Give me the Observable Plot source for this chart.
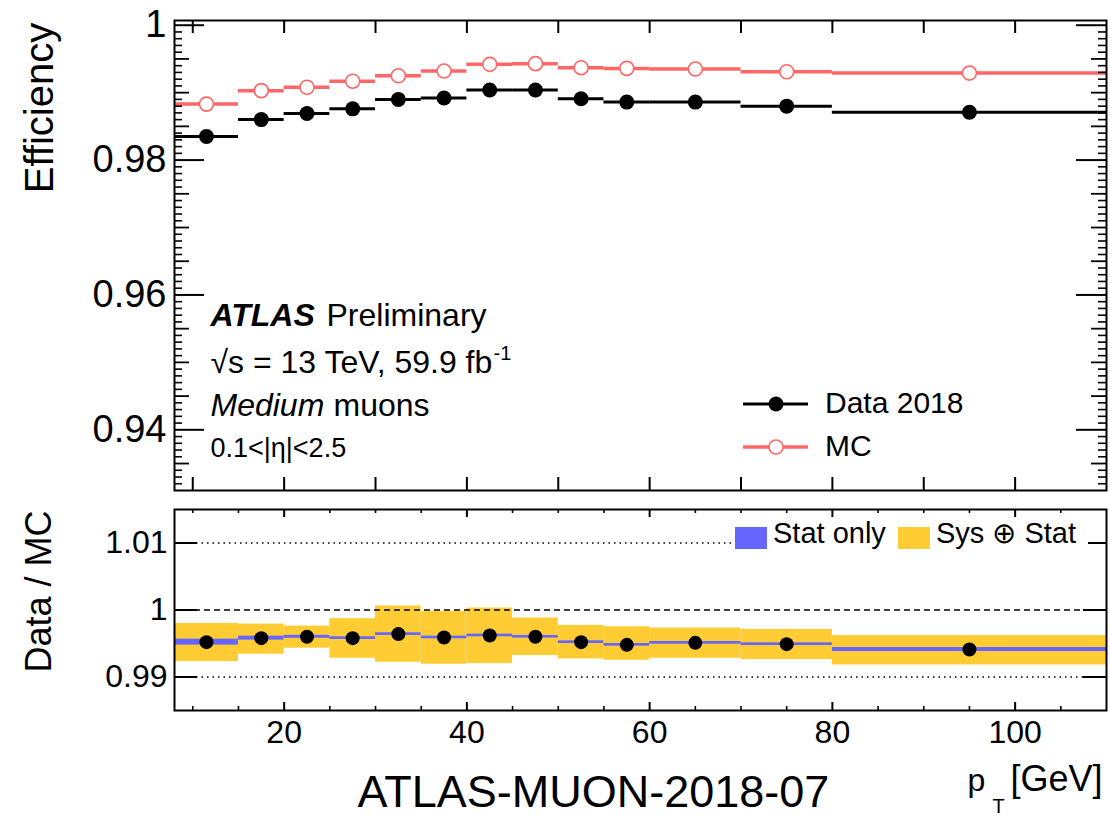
<!DOCTYPE html>
<html>
<head>
<meta charset="utf-8">
<script src="https://cdn.jsdelivr.net/npm/d3@7"></script>
<script src="https://cdn.jsdelivr.net/npm/@observablehq/plot@0.6"></script>
<style>
  body { margin: 0; background: #fff; }
  #chart { position: relative; width: 1110px; height: 816px; overflow: hidden;
           font-family: "Liberation Sans", Arial, Helvetica, sans-serif; }
  #chart > svg { position: absolute; left: 0; }
  #legend { position: absolute; left: 0; top: 0; pointer-events: none; }
</style>
</head>
<body>
<div id="chart"></div>
<script>
// pT binning [GeV]
const binLow    = [8, 15, 20, 25, 30, 35, 40, 45, 50, 55, 60, 70, 80];
const binHigh   = [15, 20, 25, 30, 35, 40, 45, 50, 55, 60, 70, 80, 110];
const binCenter = [11.5, 17.5, 22.5, 27.5, 32.5, 37.5, 42.5, 47.5, 52.5, 57.5, 65, 75, 95];

// Medium muon reconstruction efficiency
const effData = [0.9835, 0.9860, 0.9869, 0.9876, 0.9890, 0.9892, 0.9904, 0.9904, 0.9891, 0.9886, 0.9886, 0.9880, 0.9871];
const effMC   = [0.9883, 0.9903, 0.9908, 0.9917, 0.9925, 0.9932, 0.9942, 0.9943, 0.9937, 0.9936, 0.9935, 0.9931, 0.9929];

// Data / MC scale factors with uncertainty bands
const ratio     = [0.9952, 0.9958, 0.9960, 0.9958, 0.9964, 0.9959, 0.9962, 0.9960, 0.9952, 0.9948, 0.9951, 0.9949, 0.9941];
const statErr   = [0.00045, 0.0003, 0.00022, 0.0002, 0.0002, 0.0002, 0.0002, 0.0002, 0.0002, 0.0002, 0.0002, 0.0002, 0.0003];
const totalUp   = [0.9980, 0.9979, 0.9976, 0.9987, 1.0006, 0.9998, 1.0003, 0.9988, 0.9977, 0.9975, 0.9973, 0.9971, 0.9962];
const totalDown = [0.9923, 0.9934, 0.9943, 0.9928, 0.9922, 0.9919, 0.9920, 0.9932, 0.9927, 0.9925, 0.9928, 0.9926, 0.9918];

// Axis ticks and labels
const effTicks    = [0.94, 0.96, 0.98, 1];
const ratioTicks  = [0.99, 1, 1.01];
const ptTicks     = [20, 40, 60, 80, 100];
const ratioDotted = [0.99, 1.01];
const ratioDashed = [1];

const xDomain = [8, 110];
const effDomain = [0.931, 1.0007];
const ratioDomain = [0.985, 1.015];

const rows = binLow.map((lo, i) => ({
  lo, hi: binHigh[i], pt: binCenter[i],
  data: effData[i], mc: effMC[i],
  ratio: ratio[i], statLo: ratio[i] - statErr[i], statHi: ratio[i] + statErr[i],
  sysLo: totalDown[i], sysHi: totalUp[i]
}));

const RED = "#ff6666", BLUE = "#6666ff", YELLOW = "#ffcc33";
const FONT = '"Liberation Sans", Arial, Helvetica, sans-serif';
const W = 1110;
const mLeft = 174, mRight = 4;
const plotW = W - mLeft - mRight;

// inward ticks on both vertical sides
function sideTicksY(values, len, sw = 2) {
  return [
    Plot.ruleY(values, {y: d => d, insetRight: plotW - len, stroke: "black", strokeWidth: sw}),
    Plot.ruleY(values, {y: d => d, insetLeft: plotW - len, stroke: "black", strokeWidth: sw})
  ];
}
// inward ticks on both horizontal sides
function sideTicksX(values, len, plotH, sw = 2) {
  return [
    Plot.ruleX(values, {x: d => d, insetTop: plotH - len, stroke: "black", strokeWidth: sw}),
    Plot.ruleX(values, {x: d => d, insetBottom: plotH - len, stroke: "black", strokeWidth: sw})
  ];
}
const txt = (s, o) => Plot.text([s], {text: d => d, fill: "black", ...o});

// ---------- efficiency panel ----------
const effH = 500, effMT = 20, effMB = 10;
const effPH = effH - effMT - effMB;
const effMinor = d3.range(932, 1001).filter(i => i % 5 !== 0).map(i => i / 1000);
const effMedium = d3.range(935, 1000, 5).filter(i => i % 20 !== 0).map(i => i / 1000);
const xEffTicks = d3.range(10, 110, 10);

const effPanel = Plot.plot({
  width: W, height: effH,
  marginTop: effMT, marginBottom: effMB, marginLeft: mLeft, marginRight: mRight,
  x: {domain: xDomain, axis: null},
  y: {domain: effDomain},
  style: {fontFamily: FONT, background: "transparent", overflow: "visible"},
  marks: [
    Plot.ruleY(rows, {x1: "lo", x2: "hi", y: "mc", stroke: RED, strokeWidth: 3.5}),
    Plot.dot(rows, {x: "pt", y: "mc", r: 7, fill: "white", stroke: RED, strokeWidth: 1.6}),
    Plot.ruleY(rows, {x1: "lo", x2: "hi", y: "data", stroke: "black", strokeWidth: 3}),
    Plot.dot(rows, {x: "pt", y: "data", r: 7.5, fill: "black"}),
    ...sideTicksY(effMinor, 8, 1.6),
    ...sideTicksY(effMedium, 15, 1.8),
    ...sideTicksY(effTicks, 30, 2),
    ...sideTicksX(xEffTicks, 13, effPH, 2),
    Plot.frame({stroke: "black", strokeWidth: 2}),
    Plot.axisY(effTicks, {tickSize: 0, tickPadding: 8, fontSize: 38, label: null, tickFormat: d => String(d)}),
    txt("Efficiency", {frameAnchor: "top-left", dx: -122, dy: 87.5, rotate: -90, textAnchor: "middle", lineAnchor: "bottom", fontSize: 40}),
    txt("ATLAS", {frameAnchor: "top-left", dx: 36, dy: 305, textAnchor: "start", lineAnchor: "bottom", fontSize: 32, fontWeight: "bold", fontStyle: "italic"}),
    txt("Preliminary", {frameAnchor: "top-left", dx: 152, dy: 305, textAnchor: "start", lineAnchor: "bottom", fontSize: 32}),
    txt("√s = 13 TeV, 59.9 fb", {frameAnchor: "top-left", dx: 36, dy: 352, textAnchor: "start", lineAnchor: "bottom", fontSize: 32}),
    txt("-1", {frameAnchor: "top-left", dx: 319, dy: 339, textAnchor: "start", lineAnchor: "bottom", fontSize: 20}),
    txt("Medium", {frameAnchor: "top-left", dx: 36, dy: 395, textAnchor: "start", lineAnchor: "bottom", fontSize: 32, fontStyle: "italic"}),
    txt("muons", {frameAnchor: "top-left", dx: 159, dy: 395, textAnchor: "start", lineAnchor: "bottom", fontSize: 32}),
    txt("0.1<|η|<2.5", {frameAnchor: "top-left", dx: 36, dy: 436, textAnchor: "start", lineAnchor: "bottom", fontSize: 27})
  ]
});
effPanel.style.top = "0px";

// ---------- ratio panel ----------
const ratioTop = 500, ratioH = 316, ratioMT = 9, ratioMB = 106;
const ratioPH = ratioH - ratioMT - ratioMB;
const ptMinor = d3.range(10, 110, 5).filter(v => v % 20 !== 0);

const ratioPanel = Plot.plot({
  width: W, height: ratioH,
  marginTop: ratioMT, marginBottom: ratioMB, marginLeft: mLeft, marginRight: mRight,
  x: {domain: xDomain},
  y: {domain: ratioDomain},
  style: {fontFamily: FONT, background: "transparent", overflow: "visible"},
  marks: [
    Plot.rect(rows, {x1: "lo", x2: "hi", y1: "sysLo", y2: "sysHi", fill: YELLOW}),
    Plot.rect(rows, {x1: "lo", x2: "hi", y1: "statLo", y2: "statHi", fill: BLUE}),
    Plot.ruleY(ratioDotted, {y: d => d, stroke: "black", strokeWidth: 1.5, strokeDasharray: "1.5,4"}),
    Plot.ruleY(ratioDashed, {y: d => d, stroke: "black", strokeWidth: 1.5, strokeDasharray: "6,4"}),
    Plot.dot(rows, {x: "pt", y: "ratio", r: 7, fill: "black"}),
    ...sideTicksX(ptMinor, 4, ratioPH, 1.6),
    ...sideTicksX(ptTicks, 8, ratioPH, 2),
    ...sideTicksY(ratioTicks, 23, 2),
    Plot.frame({stroke: "black", strokeWidth: 2}),
    Plot.axisY(ratioTicks, {tickSize: 0, tickPadding: 7, fontSize: 32, label: null, tickFormat: d => String(d)}),
    Plot.axisX(ptTicks, {tickSize: 0, tickPadding: 10, fontSize: 32, label: null, tickFormat: d => String(d)}),
    txt("Data / MC", {frameAnchor: "top-left", dx: -124, dy: 82, rotate: -90, textAnchor: "middle", lineAnchor: "bottom", fontSize: 36}),
    txt("p", {frameAnchor: "bottom-right", dx: -139, dy: 80, textAnchor: "start", lineAnchor: "bottom", fontSize: 32}),
    txt("T", {frameAnchor: "bottom-right", dx: -114, dy: 102, textAnchor: "start", lineAnchor: "bottom", fontSize: 20}),
    txt("[GeV]", {frameAnchor: "bottom-right", dx: -96, dy: 80, textAnchor: "start", lineAnchor: "bottom", fontSize: 36}),
    txt("ATLAS-MUON-2018-07", {frameAnchor: "bottom-left", dx: 183, dy: 96, textAnchor: "start", lineAnchor: "bottom", fontSize: 45})
  ]
});
ratioPanel.style.top = ratioTop + "px";

const chart = document.getElementById("chart");
chart.appendChild(effPanel);
chart.appendChild(ratioPanel);

// Legends drawn inside the frames
const NS = "http://www.w3.org/2000/svg";
const leg = document.createElementNS(NS, "svg");
leg.setAttribute("id", "legend");
leg.setAttribute("width", W);
leg.setAttribute("height", 816);
leg.setAttribute("font-family", FONT);
function el(name, attrs, text) {
  const e = document.createElementNS(NS, name);
  for (const k in attrs) e.setAttribute(k, attrs[k]);
  if (text != null) e.textContent = text;
  leg.appendChild(e);
  return e;
}
const legendEntries = [
  {label: "Data 2018", color: "black", open: false, y: 404},
  {label: "MC", color: RED, open: true, y: 447}
];
for (const d of legendEntries) {
  el("line", {x1: 743, x2: 808, y1: d.y, y2: d.y, stroke: d.color, "stroke-width": d.open ? 3.5 : 3});
  el("circle", {cx: 776, cy: d.y, r: d.open ? 7 : 7.5, fill: d.open ? "white" : "black", stroke: d.color, "stroke-width": d.open ? 1.6 : 0});
  el("text", {x: 825, y: d.y + 9, "font-size": 30}, d.label);
}
el("rect", {x: 732, y: 518, width: 356, height: 37, fill: "white"});
const bandEntries = [
  {label: "Stat only", color: BLUE, x: 735},
  {label: "Sys ⊕ Stat", color: YELLOW, x: 898}
];
for (const d of bandEntries) {
  el("rect", {x: d.x, y: 527, width: 32, height: 22, fill: d.color});
  el("text", {x: d.x + 38, y: 543, "font-size": 29}, d.label);
}
chart.appendChild(leg);
</script>
</body>
</html>
